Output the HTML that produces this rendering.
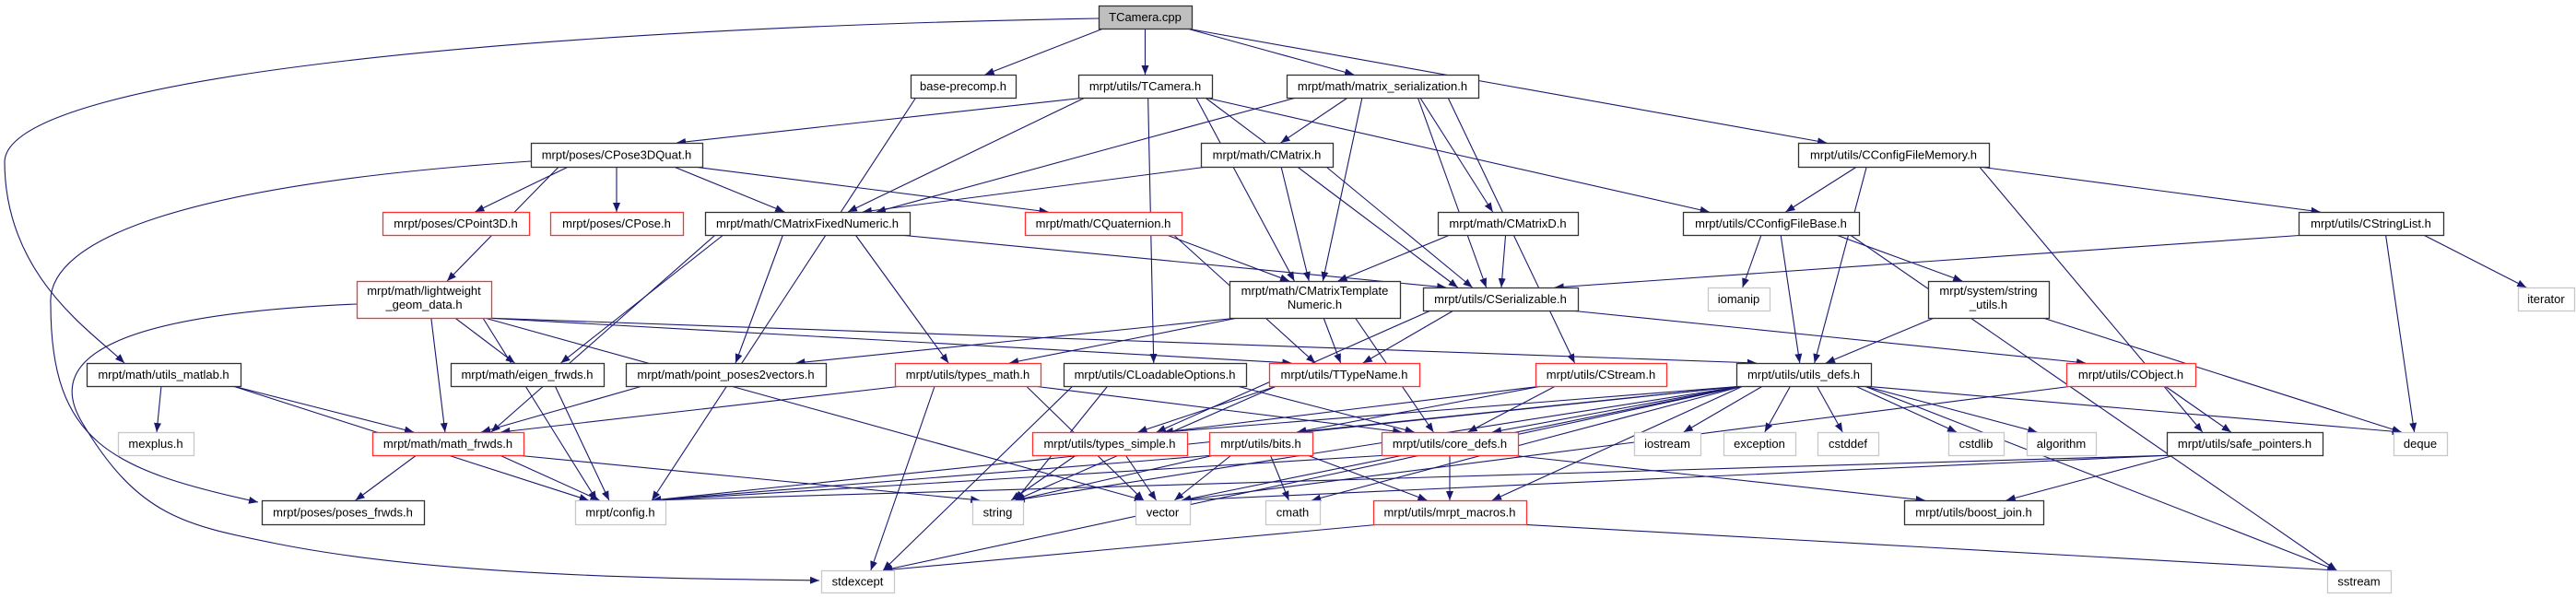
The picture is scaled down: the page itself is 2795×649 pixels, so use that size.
<!DOCTYPE html>
<html><head><meta charset="utf-8">
<style>
html,body{margin:0;padding:0;background:#fff;}
svg{display:block;}
text{font-family:"Liberation Sans",Arial,sans-serif;font-size:13px;fill:#000;}
</style></head>
<body>
<svg id="g" width="2795" height="649" viewBox="0 0 2795 649" xmlns="http://www.w3.org/2000/svg">
<defs>
<marker id="a" markerWidth="10" markerHeight="8" refX="10" refY="4" orient="auto" markerUnits="userSpaceOnUse">
<path d="M0,0 L10,4 L0,8 z" fill="#191970"/>
</marker>
</defs>
<g id="edges" fill="none" stroke="#191970" stroke-width="1.1"></g>
<g id="nodes"></g>
</svg>
<script>
var R=[[6,31],[81,106],[155,181],[230,255],[305,345],[394,419],[469,494],[543,569],[619,643]];
var N={
TC:[1192,1293,0,"TCamera.cpp","t"],
BP:[988,1102,1,"base-precomp.h","b"],
TCh:[1170,1315,1,"mrpt/utils/TCamera.h","b"],
MS:[1396,1604,1,"mrpt/math/matrix_serialization.h","b"],
CP3Q:[576,762,2,"mrpt/poses/CPose3DQuat.h","b"],
CM:[1303,1446,2,"mrpt/math/CMatrix.h","b"],
CCFM:[1951,2158,2,"mrpt/utils/CConfigFileMemory.h","b"],
CPt:[415,574,3,"mrpt/poses/CPoint3D.h","r"],
CPo:[597,741,3,"mrpt/poses/CPose.h","r"],
CMFN:[765,987,3,"mrpt/math/CMatrixFixedNumeric.h","b"],
CQ:[1112,1282,3,"mrpt/math/CQuaternion.h","r"],
CMD:[1560,1712,3,"mrpt/math/CMatrixD.h","b"],
CCFB:[1826,2017,3,"mrpt/utils/CConfigFileBase.h","b"],
CSL:[2494,2651,3,"mrpt/utils/CStringList.h","b"],
LGD:[387,533,4,"mrpt/math/lightweight|_geom_data.h","r"],
CMTN:[1334,1519,4,"mrpt/math/CMatrixTemplate|Numeric.h","b"],
CSer:[1544,1712,4.5,"mrpt/utils/CSerializable.h","b"],
IOM:[1853,1920,4.5,"iomanip","g"],
SU:[2092,2223,4,"mrpt/system/string|_utils.h","b"],
IT:[2732,2793,4.5,"iterator","g"],
UM:[94,261,5,"mrpt/math/utils_matlab.h","b"],
EF:[489,655,5,"mrpt/math/eigen_frwds.h","b"],
PP:[679,896,5,"mrpt/math/point_poses2vectors.h","b"],
TM:[971,1129,5,"mrpt/utils/types_math.h","r"],
CLO:[1154,1352,5,"mrpt/utils/CLoadableOptions.h","b"],
TTN:[1377,1540,5,"mrpt/utils/TTypeName.h","r"],
CS:[1666,1808,5,"mrpt/utils/CStream.h","r"],
UD:[1884,2030,5,"mrpt/utils/utils_defs.h","b"],
CO:[2242,2382,5,"mrpt/utils/CObject.h","r"],
MX:[128,210,6,"mexplus.h","g"],
MF:[404,568,6,"mrpt/math/math_frwds.h","r"],
TS:[1120,1288,6,"mrpt/utils/types_simple.h","r"],
BI:[1312,1424,6,"mrpt/utils/bits.h","r"],
CD:[1499,1647,6,"mrpt/utils/core_defs.h","r"],
IOS:[1773,1845,6,"iostream","g"],
EXC:[1870,1948,6,"exception","g"],
CSD:[1972,2038,6,"cstddef","g"],
CSL2:[2114,2174,6,"cstdlib","g"],
ALG:[2199,2274,6,"algorithm","g"],
SP:[2351,2520,6,"mrpt/utils/safe_pointers.h","b"],
DQ:[2597,2655,6,"deque","g"],
PF:[284,460,7,"mrpt/poses/poses_frwds.h","b"],
CFG:[624,722,7,"mrpt/config.h","g"],
STR:[1055,1110,7,"string","g"],
VEC:[1232,1291,7,"vector","g"],
CMA:[1373,1432,7,"cmath","g"],
MM:[1490,1656,7,"mrpt/utils/mrpt_macros.h","r"],
BJ:[2066,2217,7,"mrpt/utils/boost_join.h","b"],
SE:[891,970,8,"stdexcept","g"],
SS:[2525,2594,8,"sstream","g"]
};
function yr(n){var r=n[2];if(r==4.5)return [312,337];return R[r];}
var ns="http://www.w3.org/2000/svg";
var NG=document.getElementById("nodes"),EG=document.getElementById("edges");
function el(t,a,p){var e=document.createElementNS(ns,t);for(var k in a)e.setAttribute(k,a[k]);p.appendChild(e);return e;}
function cl(v,m){return Math.max(-m,Math.min(m,v));}
var E=[
["TC","BP"],["TC","TCh"],["TC","MS"],["TC","CCFM"],
["BP","CFG"],
["TCh","CP3Q"],["TCh","CMFN"],["TCh","CLO"],["TCh","CMTN"],["TCh","CSer"],["TCh","CCFB"],
["MS","CM"],["MS","CMFN"],["MS","CMTN"],["MS","CMD"],["MS","CSer"],["MS","CS"],
["CP3Q","CPt"],["CP3Q","CPo"],["CP3Q","CMFN"],["CP3Q","CQ"],["CP3Q","LGD"],
["CM","CMFN"],["CM","CMTN"],["CM","CSer"],
["CCFM","CCFB"],["CCFM","UD"],["CCFM","SP"],["CCFM","CSL"],
["CMFN","CSer"],["CMFN","MF"],["CMFN","EF"],["CMFN","PP"],["CMFN","TM"],
["CQ","CMTN"],["CQ","TTN"],
["CMD","CMTN"],["CMD","CSer"],
["CCFB","IOM"],["CCFB","UD"],["CCFB","SU"],["CCFB","SS"],
["CSL","CSer"],["CSL","IT"],["CSL","DQ"],
["LGD","EF"],["LGD","MF"],["LGD","TTN"],["LGD","UD"],["LGD","CFG"],["LGD","VEC"],
["CMTN","TTN"],["CMTN","TM"],["CMTN","PP"],["CMTN","CD"],
["CSer","TTN"],["CSer","CO"],["CSer","TS"],
["SU","UD"],["SU","DQ"],
["UM","MX"],["UM","MF"],["UM","CFG"],
["EF","CFG"],["PP","MF"],
["TM","MF"],["TM","SE"],["TM","VEC"],["TM","CD"],
["CLO","STR"],["CLO","SE"],["CLO","CD"],
["TTN","STR"],["TTN","TS"],
["CS","CD"],["CS","TS"],["CS","BI"],
["UD","TS"],["UD","BI"],["UD","CD"],["UD","IOS"],["UD","EXC"],["UD","CSD"],["UD","CSL2"],["UD","ALG"],["UD","DQ"],["UD","SS"],["UD","STR"],["UD","VEC"],["UD","CMA"],["UD","CFG"],["UD","SE"],["UD","MM"],
["CO","SP"],["CO","VEC"],
["MF","PF"],["MF","CFG"],["MF","STR"],
["TS","STR"],["TS","VEC"],
["BI","CMA"],["BI","VEC"],["BI","MM"],["BI","CFG"],["BI","STR"],
["CD","MM"],["CD","CFG"],["CD","BJ"],
["SP","BJ"],["SP","VEC"],["SP","CFG"],
["MM","SE"],["MM","SS"]
];
E.forEach(function(e){
 var s=N[e[0]],t=N[e[1]],sy=yr(s),ty=yr(t);
 var scx=(s[0]+s[1])/2,tcx=(t[0]+t[1])/2,ws=s[1]-s[0],wt=t[1]-t[0];
 var x1,y1,x2,y2,d;
 if(t[2]==s[2]){
  x1=tcx<scx?s[0]:s[1]; y1=(sy[0]+sy[1])/2+4;
  x2=tcx+(tcx<scx?wt*0.3:-wt*0.3); y2=ty[0];
  d="M"+x1+","+y1+" C"+(x1+(x2-x1)*0.5)+","+(y1-20)+" "+x2+","+(y2-20)+" "+x2+","+y2;
 } else {
  x1=scx+cl((tcx-scx)*0.3,ws*0.45); y1=sy[1];
  x2=tcx+cl((scx-tcx)*0.12,wt*0.35); y2=ty[0];
  var dy=y2-y1,dx=x2-x1;
  d="M"+x1+","+y1+" C"+(x1+dx*0.3)+","+(y1+dy*0.3)+" "+(x1+dx*0.7)+","+(y1+dy*0.7)+" "+x2+","+y2;
 }
 el("path",{d:d,"marker-end":"url(#a)"},EG);
});
el("path",{d:"M1192,20 C600,30 10,80 5,175 C5,300 100,360 135,394","marker-end":"url(#a)"},EG);
el("path",{d:"M576,175 C200,200 50,260 55,330 C55,480 120,510 280,545","marker-end":"url(#a)"},EG);
el("path",{d:"M387,330 C150,340 40,380 90,460 C150,560 200,570 300,590 C500,630 800,628 889,630","marker-end":"url(#a)"},EG);
for(var k in N){
 var n=N[k],y=yr(n),col=n[4]=="r"?"#ff3030":(n[4]=="g"?"#c8c8c8":"#333");
 el("rect",{x:n[0]+0.5,y:y[0]+0.5,width:n[1]-n[0],height:y[1]-y[0],fill:n[4]=="t"?"#bfbfbf":"#fff",stroke:n[4]=="t"?"#333":col,"stroke-width":1.3},NG);
 var lines=n[3].split("|"),cx=(n[0]+n[1])/2;
 if(lines.length==1){var t=el("text",{x:cx,y:(y[0]+y[1])/2+4.5,"text-anchor":"middle"},NG);t.textContent=lines[0];}
 else{var t1=el("text",{x:cx,y:y[0]+15,"text-anchor":"middle"},NG);t1.textContent=lines[0];
      var t2=el("text",{x:cx,y:y[0]+30,"text-anchor":"middle"},NG);t2.textContent=lines[1];}
}
</script>
</body></html>
